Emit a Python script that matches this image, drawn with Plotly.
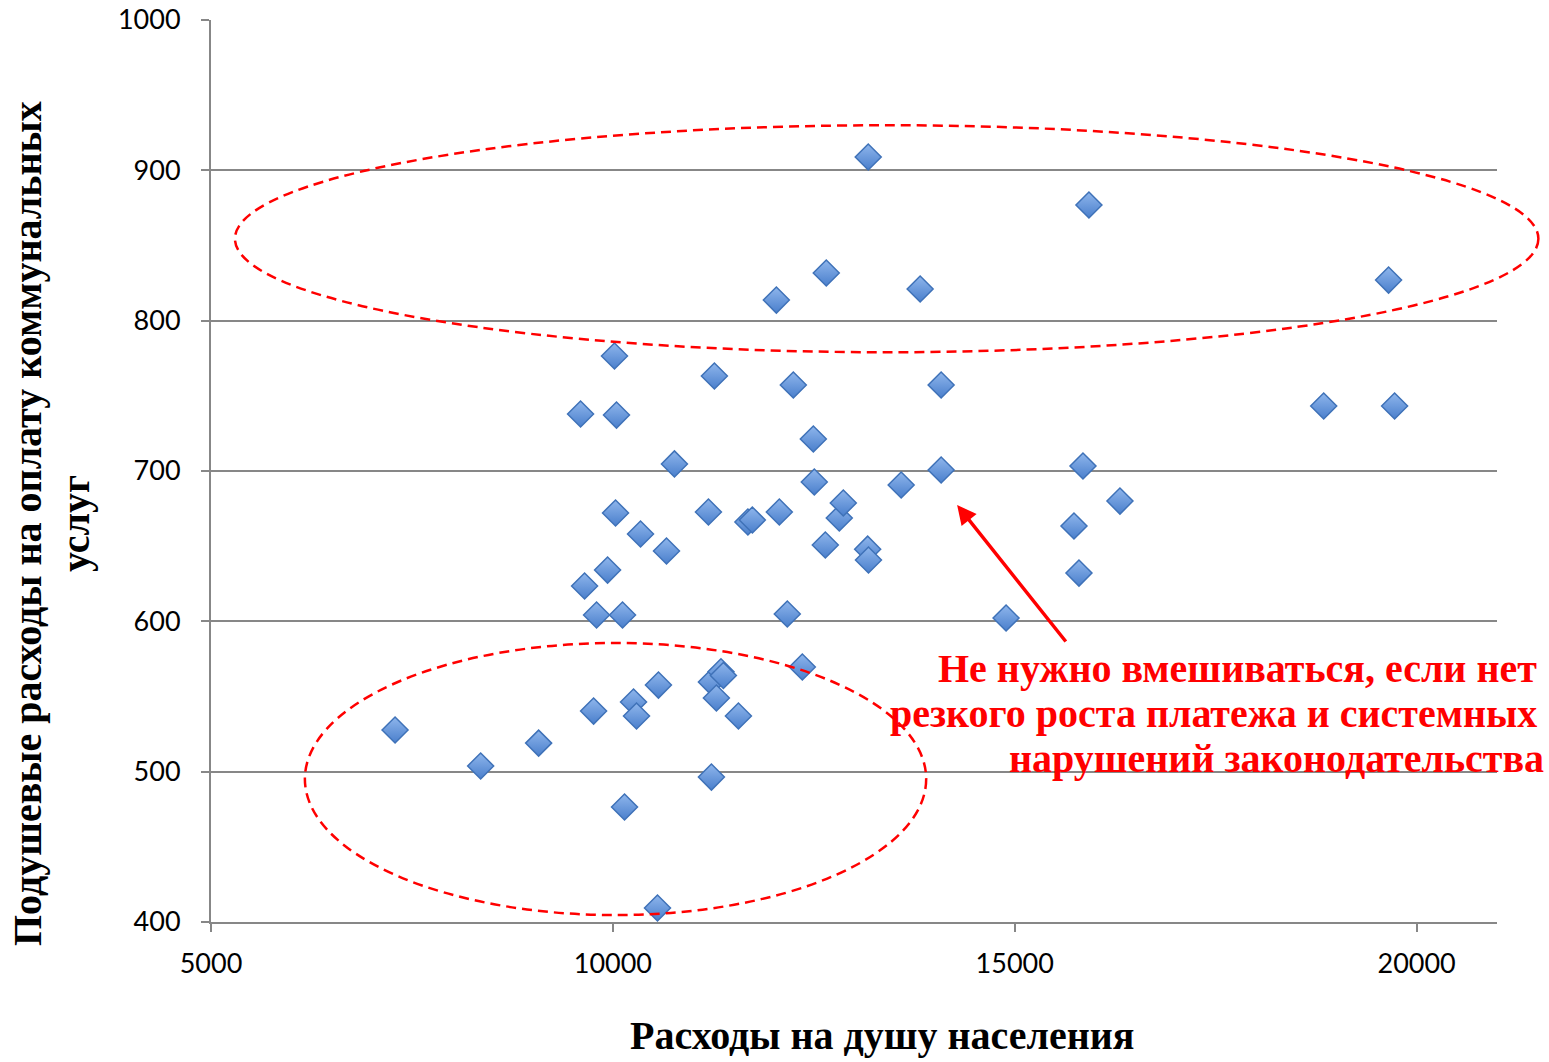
import plotly.graph_objects as go

# Data
spend_per_capita = [
    7290, 8355, 9076, 9598, 9648, 9797, 9760, 9934, 10020, 10045,
    10033, 10120, 10145, 10257, 10294, 10344, 10567, 10555, 10667, 10766,
    11189, 11263, 11226, 11288, 11345, 11375, 11562, 11226, 11680, 11735,
    12034, 12071, 12170, 12245, 12357, 12494, 12506, 12655, 12643, 12817,
    12867, 13177, 13170, 13180, 13587, 13823, 14084, 14084, 14892, 15737,
    15799, 15849, 15923, 16309, 18844, 19651, 19726,
]
utility_spend = [
    527.7, 503.8, 519.0, 737.9, 623.5, 604.2, 540.3, 634.1, 776.5, 737.2,
    672.1, 604.2, 476.5, 546.3, 537.0, 658.1, 557.6, 409.3, 646.8, 704.7,
    672.7, 763.2, 559.6, 549.0, 566.5, 564.0, 537.0, 496.4, 666.1, 667.4,
    813.7, 672.7, 604.9, 757.2, 569.6, 721.3, 692.7, 831.7, 650.8, 668.7,
    678.7, 908.9, 648.0, 640.8, 690.7, 821.1, 757.2, 700.7, 602.2, 663.4,
    632.1, 703.3, 876.9, 680.0, 743.2, 827.0, 743.2,
]

x_ticks = [5000, 10000, 15000, 20000]
x_tick_labels = ["5000", "10000", "15000", "20000"]
y_ticks = [400, 500, 600, 700, 800, 900, 1000]
X_RANGE = [5000, 21000]
Y_RANGE = [400, 1000]

# Highlight ellipses (data units) and annotation arrow
upper_ellipse = dict(x0=5298, x1=21515, y0=779, y1=930)
lower_ellipse = dict(x0=6168, x1=13898, y0=404.6, y1=585.6)
arrow_head = (14283, 677.4)
arrow_tail = (15650, 585.6)

note_lines = [
    "Не нужно вмешиваться, если нет",
    "резкого роста платежа и системных",
    "нарушений законодательства",
]
note_right_px = [1539, 1539, 1546]
x_title = "Расходы на душу населения"
y_title_lines = ["Подушевые расходы на оплату коммунальных", "услуг"]

W, H = 1549, 1062
ML, MR, MT, MB = 211, 52, 20, 140
PW, PH = W - ML - MR, H - MT - MB


def px(x):
    return (x - X_RANGE[0]) / (X_RANGE[1] - X_RANGE[0])


def py(y):
    return (y - Y_RANGE[0]) / (Y_RANGE[1] - Y_RANGE[0])


def pix_x(p):
    return (p - ML) / PW


def pix_y(p):
    return (H - MB - p) / PH


fig = go.Figure()
fig.add_trace(go.Scatter(
    x=spend_per_capita, y=utility_spend, mode="markers",
    marker=dict(symbol="diamond", size=20, color="#8fb6ec",
                gradient=dict(type="vertical", color="#4a7fcc"),
                line=dict(color="#3f72b8", width=1.5)),
    showlegend=False, cliponaxis=False,
))

for e in (upper_ellipse, lower_ellipse):
    fig.add_shape(type="circle", xref="paper", yref="paper",
                  x0=px(e["x0"]), x1=px(e["x1"]), y0=py(e["y0"]), y1=py(e["y1"]),
                  line=dict(color="#ff0000", width=2.5, dash="10px,6px"), layer="above")

fig.add_annotation(x=arrow_head[0], y=arrow_head[1], ax=arrow_tail[0], ay=arrow_tail[1],
                   xref="x", yref="y", axref="x", ayref="y", text="", showarrow=True,
                   arrowhead=2, arrowsize=1.1, arrowwidth=3.5, arrowcolor="#ff0000")

serif = "Liberation Serif"
for i, line in enumerate(note_lines):
    fig.add_annotation(x=pix_x(note_right_px[i]), y=pix_y(668 + 45 * i),
                       xref="paper", yref="paper", xanchor="right", yanchor="middle",
                       text=f"<b>{line}</b>", showarrow=False,
                       font=dict(family=serif, size=40, color="#ff0000"))

fig.add_annotation(x=pix_x(882), y=pix_y(1035), xref="paper", yref="paper",
                   xanchor="center", yanchor="middle", text=f"<b>{x_title}</b>",
                   showarrow=False, font=dict(family=serif, size=40, color="#000000"))
for i, line in enumerate(y_title_lines):
    fig.add_annotation(x=pix_x(27 + 48 * i), y=pix_y(524),
                       xref="paper", yref="paper", xanchor="center", yanchor="middle",
                       textangle=-90, text=f"<b>{line}</b>", showarrow=False,
                       font=dict(family=serif, size=40, color="#000000"))

grid = "#878787"
fig.update_layout(
    width=W, height=H, autosize=False,
    margin=dict(l=ML, r=MR, t=MT, b=MB, autoexpand=False),
    paper_bgcolor="white", plot_bgcolor="white",
    font=dict(family="Lato", size=27, color="#000000"),
    xaxis=dict(range=X_RANGE, tickvals=x_ticks, ticktext=x_tick_labels,
               showgrid=False, zeroline=False, automargin=False,
               showline=True, linecolor=grid, linewidth=2, ticks="outside",
               ticklen=8, tickcolor=grid, tickwidth=2, ticklabelstandoff=9),
    yaxis=dict(range=Y_RANGE, tickvals=y_ticks, showgrid=True, gridcolor=grid, gridwidth=2,
               zeroline=False, showline=True, linecolor=grid, linewidth=2, automargin=False,
               ticks="outside", ticklen=8, tickcolor=grid, tickwidth=2,
               ticklabelstandoff=15),
)

fig.write_html("out.html", config={"displayModeBar": False},
               post_script="document.body.style.margin='0';document.body.style.overflow='hidden';")
